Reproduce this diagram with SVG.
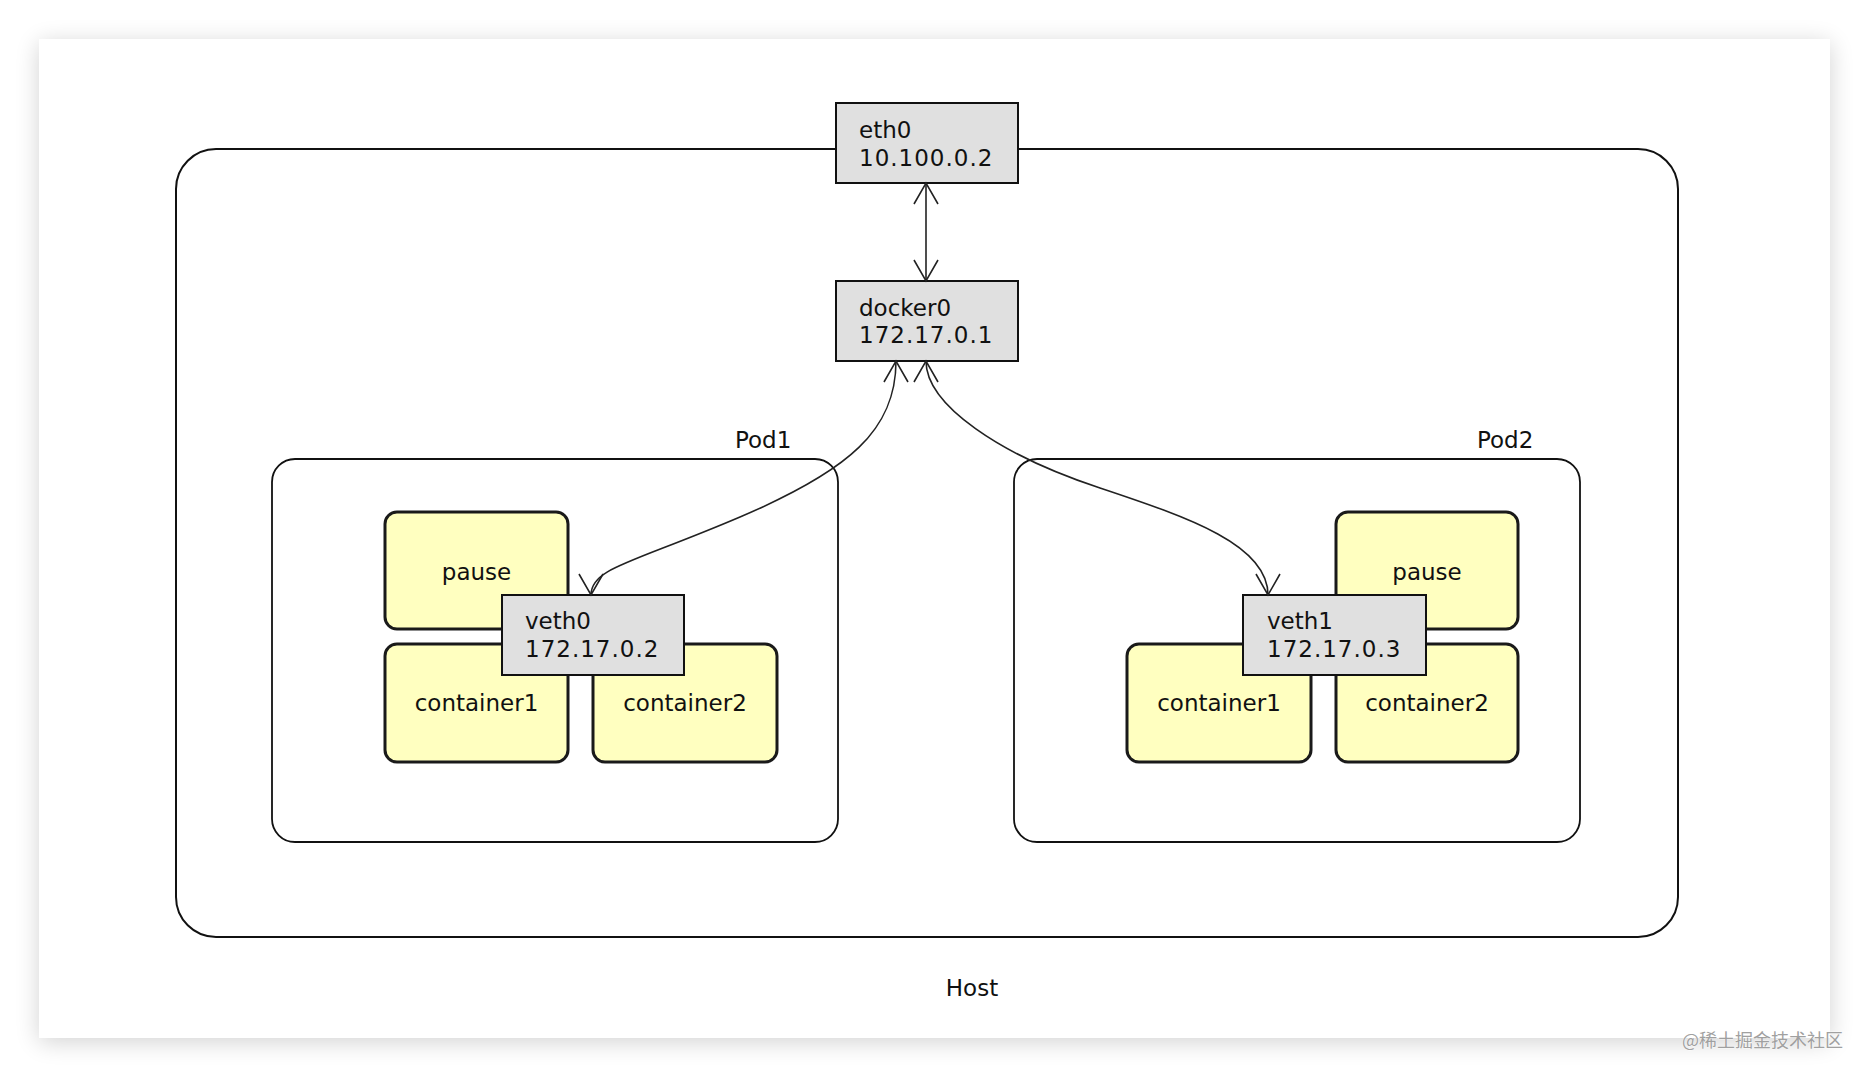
<svg xmlns="http://www.w3.org/2000/svg" width="1870" height="1078" viewBox="0 0 1870 1078">
<defs>
<filter id="shadow" x="-5%" y="-5%" width="110%" height="110%">
<feGaussianBlur in="SourceAlpha" stdDeviation="12"/>
<feOffset dx="0" dy="4" result="b"/>
<feComponentTransfer><feFuncA type="linear" slope="0.18"/></feComponentTransfer>
<feMerge><feMergeNode/><feMergeNode in="SourceGraphic"/></feMerge>
</filter>
<marker id="arr" viewBox="-24 -15 27 30" refX="0" refY="0" markerWidth="27" markerHeight="30" markerUnits="userSpaceOnUse" orient="auto-start-reverse">
<path d="M-21,-12 L0,0 L-21,12" fill="none" stroke="#222" stroke-width="1.6"/>
</marker>
</defs>
<style>
text{font-family:"DejaVu Sans","Liberation Sans",sans-serif;font-size:23px;fill:#111}
.c{text-anchor:middle}
.ip{letter-spacing:1px}
.host{fill:none;stroke:#111;stroke-width:2}
.pod{fill:none;stroke:#111;stroke-width:1.8}
.ybox{fill:#ffffc0;stroke:#1a1a1a;stroke-width:3}
.gbox{fill:#e0e0e0;stroke:#111;stroke-width:2}
.conn{fill:none;stroke:#222;stroke-width:1.6}
.wm{font-family:"Noto Sans CJK SC",sans-serif;font-size:18px;fill:#a0a0a0;stroke:#fff;stroke-width:0.6;paint-order:stroke}
</style>
<rect width="1870" height="1078" fill="#ffffff"/>
<rect x="39" y="39" width="1791" height="999" fill="#ffffff" filter="url(#shadow)"/>

<g id="host">
<rect class="host" x="176" y="149" width="1502" height="788" rx="40" ry="40"/>
<text x="972" y="996" class="c">Host</text>
</g>

<g id="pod1">
<rect class="pod" x="272" y="459" width="566" height="383" rx="23" ry="23"/>
<text x="735" y="448">Pod1</text>
</g>
<g id="pod2">
<rect class="pod" x="1014" y="459" width="566" height="383" rx="23" ry="23"/>
<text x="1477" y="448">Pod2</text>
</g>

<g id="pod1-pause">
<rect class="ybox" x="385" y="512" width="183" height="117" rx="12" ry="12"/>
<text x="476.5" y="580" class="c">pause</text>
</g>
<g id="pod1-container1">
<rect class="ybox" x="385" y="644" width="183" height="118" rx="12" ry="12"/>
<text x="476.5" y="711" class="c">container1</text>
</g>
<g id="pod1-container2">
<rect class="ybox" x="593" y="644" width="184" height="118" rx="12" ry="12"/>
<text x="685" y="711" class="c">container2</text>
</g>
<g id="pod2-pause">
<rect class="ybox" x="1336" y="512" width="182" height="117" rx="12" ry="12"/>
<text x="1427" y="580" class="c">pause</text>
</g>
<g id="pod2-container1">
<rect class="ybox" x="1127" y="644" width="184" height="118" rx="12" ry="12"/>
<text x="1219" y="711" class="c">container1</text>
</g>
<g id="pod2-container2">
<rect class="ybox" x="1336" y="644" width="182" height="118" rx="12" ry="12"/>
<text x="1427" y="711" class="c">container2</text>
</g>

<g id="veth0">
<rect class="gbox" x="502" y="595" width="182" height="80"/>
<text x="525" y="629">veth0</text>
<text x="525" y="657" class="ip">172.17.0.2</text>
</g>
<g id="veth1">
<rect class="gbox" x="1243" y="595" width="183" height="80"/>
<text x="1267" y="629">veth1</text>
<text x="1267" y="657" class="ip">172.17.0.3</text>
</g>

<g id="eth0">
<rect class="gbox" x="836" y="103" width="182" height="80"/>
<text x="859" y="138">eth0</text>
<text x="859" y="166" class="ip">10.100.0.2</text>
</g>
<g id="docker0">
<rect class="gbox" x="836" y="281" width="182" height="80"/>
<text x="859" y="316">docker0</text>
<text x="859" y="343" class="ip">172.17.0.1</text>
</g>

<g id="connectors">
<path class="conn" d="M926,183 L926,281" marker-start="url(#arr)" marker-end="url(#arr)"/>
<path class="conn" d="M896,361 C896,430 849,470.5 740,517 C631,563.5 591,568 591,595" marker-start="url(#arr)" marker-end="url(#arr)"/>
<path class="conn" d="M926,361 C926,405 1000,455 1100,488 C1190,518 1268,545 1268,595" marker-start="url(#arr)" marker-end="url(#arr)"/>
</g>

<text class="wm" x="1682" y="1047">@稀土掘金技术社区</text>
</svg>
